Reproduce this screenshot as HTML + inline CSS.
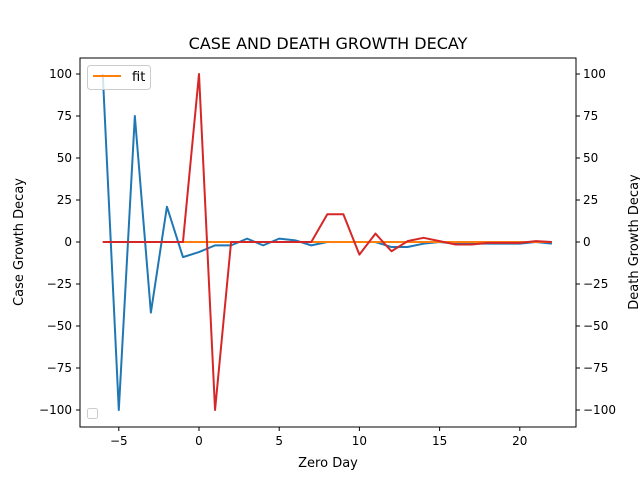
<!DOCTYPE html>
<html><head><meta charset="utf-8"><style>
body{margin:0;background:#fff;}
svg text{font-family:"DejaVu Sans","Liberation Sans",sans-serif;fill:#000;}
</style></head><body>
<svg id="chart" width="640" height="480" xmlns="http://www.w3.org/2000/svg">
<rect width="640" height="480" fill="#fff"/>
<text x="328" y="49" font-size="16" text-anchor="middle">CASE AND DEATH GROWTH DECAY</text>
<g id="marks"></g>
<rect x="80" y="58" width="496" height="369" fill="none" stroke="#000" stroke-width="1"/>
<g id="axes"></g>
<text x="328" y="467" font-size="13" text-anchor="middle">Zero Day</text>
<text transform="translate(23,242) rotate(-90)" font-size="13" text-anchor="middle">Case Growth Decay</text>
<text transform="translate(638,242) rotate(-90)" font-size="13" text-anchor="middle">Death Growth Decay</text>
<g>
<rect x="87.5" y="65.5" width="63" height="24" rx="3" fill="#fff" fill-opacity="0.8" stroke="#ccc"/>
<line x1="93" y1="76" x2="121" y2="76" stroke="#ff7f0e" stroke-width="2"/>
<text x="132" y="81" font-size="13">fit</text>
</g>
<rect x="87.5" y="408.5" width="10" height="10" rx="2" fill="#fff" stroke="#ccc"/>
</svg>
<script>
const days = [-6,-5,-4,-3,-2,-1,0,1,2,3,4,5,6,7,8,9,10,11,12,13,14,15,16,17,18,19,20,21,22];
const caseGrowth = [100,-100,75,-42,21,-9,-6,-2,-2,2,-2,2,1,-2,0,0,0,0,-3,-3,-1,0,-1,-1,-1,-1,-1,0,-1];
const deathGrowth = [0,0,0,0,0,0,100,-100,0,0,0,0,0,0,16.5,16.5,-7.5,5,-5.5,0.5,2.5,0.5,-1.5,-1.5,-0.5,-0.5,-0.5,0.5,0];
const fitValues = [0,0,0,0,0,0,0,0,0,0,0,0,0,0,0,0,0,0,0,0,0,0,0,0,0,0,0,0,0];
const xTicks = [-5,0,5,10,15,20];
const yTicks = [100,75,50,25,0,-25,-50,-75,-100];
const yTickLabels = ["100","75","50","25","0","\u221225","\u221250","\u221275","\u2212100"];

const NS="http://www.w3.org/2000/svg";
const sx = v => 199 + v*16.04;
const sy = v => 242 - v*1.68;
const marks=document.getElementById('marks'), axes=document.getElementById('axes');
function line(vals,color,name){
  const p=document.createElementNS(NS,'polyline');
  p.setAttribute('points',days.map((d,i)=>sx(d)+','+sy(vals[i])).join(' '));
  p.setAttribute('fill','none');p.setAttribute('stroke',color);p.setAttribute('stroke-width','2');
  p.setAttribute('stroke-linejoin','round');
  
  
  marks.appendChild(p);
}
line(caseGrowth,'#1f77b4','case-growth-line');
line(fitValues,'#ff7f0e','fit-line');
line(deathGrowth,'#d62728','death-growth-line');
function el(tag,attrs,txt){const e=document.createElementNS(NS,tag);for(const k in attrs)e.setAttribute(k,attrs[k]);if(txt!==undefined)e.textContent=txt;axes.appendChild(e);return e;}
xTicks.forEach(t=>{
  const x=sx(t);
  el('line',{x1:x,y1:427,x2:x,y2:431,stroke:'#000'});
  const tx=el('text',{x:x,y:445,'font-size':12,'text-anchor':'middle'},t<0?'\u2212'+(-t):String(t));
  
  
});
yTicks.forEach((t,i)=>{
  const y=sy(t);
  el('line',{x1:76,y1:y,x2:80,y2:y,stroke:'#000'});
  el('line',{x1:576,y1:y,x2:580,y2:y,stroke:'#000'});
  const a=el('text',{x:72,y:y+4,'font-size':12,'text-anchor':'end'},yTickLabels[i]);
  
  
  const b=el('text',{x:583,y:y+4,'font-size':12,'text-anchor':'start'},yTickLabels[i]);
  
  
});
</script>
</body></html>
